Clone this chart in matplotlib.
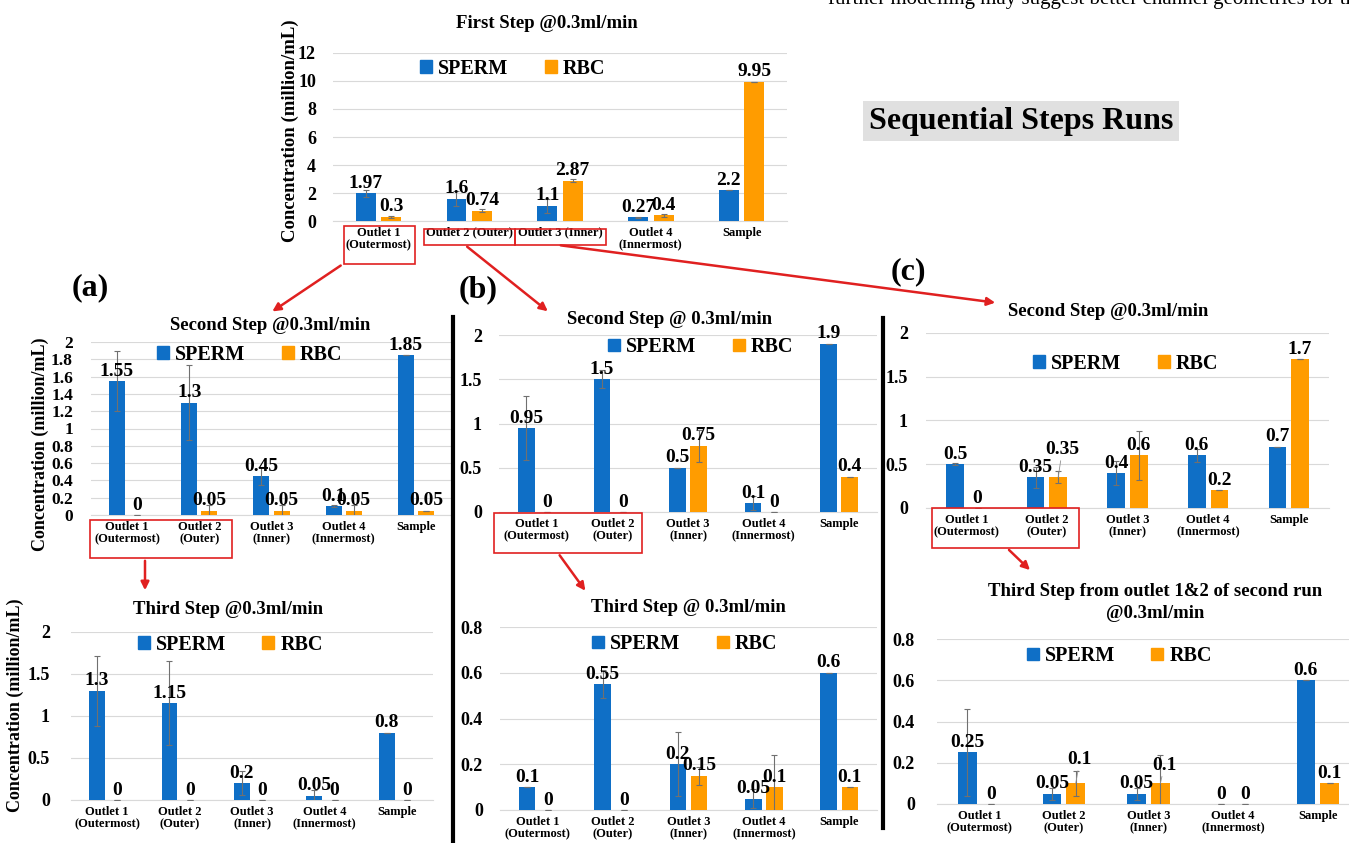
import numpy as np
import matplotlib.pyplot as plt
from matplotlib.patches import Patch, Rectangle, FancyArrowPatch
from matplotlib.lines import Line2D

W, H = 1349, 843
plt.rcParams['font.family'] = 'Liberation Serif'
plt.rcParams['font.weight'] = 'bold'

BLUE = '#0f6fc6'
ORANGE = '#ff9c00'
RED = '#e02020'
GRID = '#d9d9d9'

# ---- data ----
cats_first = ['Outlet 1\n(Outermost)', 'Outlet 2 (Outer)', 'Outlet 3 (Inner)', 'Outlet 4\n(Innermost)', 'Sample']
cats = ['Outlet 1\n(Outermost)', 'Outlet 2\n(Outer)', 'Outlet 3\n(Inner)', 'Outlet 4\n(Innermost)', 'Sample']

first_sperm = [1.97, 1.6, 1.1, 0.27, 2.2]
first_rbc = [0.3, 0.74, 2.87, 0.4, 9.95]
first_sperm_err = [0.25, 0.55, 0.5, 0.05, 0]
first_rbc_err = [0.05, 0.1, 0.1, 0.08, 0]

a2_sperm = [1.55, 1.3, 0.45, 0.1, 1.85]
a2_rbc = [0, 0.05, 0.05, 0.05, 0.05]
a2_sperm_err = [0.35, 0.43, 0.1, 0.01, 0]
a2_rbc_err = [0, 0.07, 0.07, 0.07, 0]

a3_sperm = [1.3, 1.15, 0.2, 0.05, 0.8]
a3_rbc = [0, 0, 0, 0, 0]
a3_sperm_err = [0.42, 0.5, 0.14, 0.07, 0]
a3_rbc_err = [0, 0, 0, 0, 0]

b2_sperm = [0.95, 1.5, 0.5, 0.1, 1.9]
b2_rbc = [0, 0, 0.75, 0, 0.4]
b2_sperm_err = [0.36, 0.1, 0, 0.08, 0]
b2_rbc_err = [0, 0, 0.18, 0, 0]

b3_sperm = [0.1, 0.55, 0.2, 0.05, 0.6]
b3_rbc = [0, 0, 0.15, 0.1, 0.1]
b3_sperm_err = [0, 0.06, 0.14, 0.04, 0]
b3_rbc_err = [0, 0, 0.04, 0.14, 0]

c2_sperm = [0.5, 0.35, 0.4, 0.6, 0.7]
c2_rbc = [0, 0.35, 0.6, 0.2, 1.7]
c2_sperm_err = [0.01, 0.12, 0.14, 0.07, 0]
c2_rbc_err = [0, 0.07, 0.28, 0, 0]

c3_sperm = [0.25, 0.05, 0.05, 0, 0.6]
c3_rbc = [0, 0.1, 0.1, 0, 0.1]
c3_sperm_err = [0.21, 0.03, 0.03, 0, 0]
c3_rbc_err = [0, 0.06, 0.14, 0, 0]

fig = plt.figure(figsize=(W / 100, H / 100), dpi=100)


def fx(x):
    return x / W


def fy(y):
    return 1 - y / H


def bar_panel(box, sperm, rbc, s_err, r_err, labels, ymax, step, leg_xy,
              ypad=17, tick_size=13, lab_size=14, cat_size=9, rbc_lift=None):
    l, t, r, b = box
    ax = fig.add_axes([fx(l), fy(b), (r - l) / W, (b - t) / H])
    x = np.arange(len(labels))
    ekw = dict(ecolor='#707070', elinewidth=0.8, capsize=2, capthick=0.8)
    ax.bar(x - 0.14, sperm, 0.22, color=BLUE, yerr=s_err, error_kw=ekw, zorder=3)
    ax.bar(x + 0.14, rbc, 0.22, color=ORANGE, yerr=r_err, error_kw=ekw, zorder=3)
    for xi, v in zip(x - 0.14, sperm):
        ax.annotate(f'{v:g}', (xi, v), xytext=(0, 1), textcoords='offset points',
                    ha='center', va='bottom', fontsize=lab_size, fontweight='bold', zorder=5)
    lifts = rbc_lift or [0] * len(rbc)
    for xi, v, lift in zip(x + 0.14, rbc, lifts):
        if lift:
            ax.annotate(f'{v:g}', (xi, v), xytext=(3, 1 + lift), textcoords='offset points',
                        ha='center', va='bottom', fontsize=lab_size, fontweight='bold', zorder=5,
                        arrowprops=dict(arrowstyle='-', color='#909090', lw=0.6, shrinkA=0, shrinkB=0))
        else:
            ax.annotate(f'{v:g}', (xi, v), xytext=(0, 1), textcoords='offset points',
                        ha='center', va='bottom', fontsize=lab_size, fontweight='bold', zorder=5)
    ax.set_xlim(-0.5, len(labels) - 0.5)
    ax.set_ylim(0, ymax)
    ticks = np.arange(0, ymax + step / 2, step)
    ax.set_yticks(ticks)
    ax.set_yticklabels([f'{round(v, 2):g}' for v in ticks], fontsize=tick_size, fontweight='bold')
    ax.set_xticks(x)
    ax.set_xticklabels(labels, fontsize=cat_size, fontweight='bold', linespacing=1.1)
    ax.tick_params(axis='y', length=0, pad=ypad * 0.72)
    ax.tick_params(axis='x', length=0, pad=4)
    ax.grid(axis='y', color=GRID, lw=0.8)
    ax.set_axisbelow(True)
    for s in ('left', 'right', 'top'):
        ax.spines[s].set_visible(False)
    ax.spines['bottom'].set_color(GRID)
    ax.patch.set_alpha(0)
    handles = [Patch(color=BLUE, label='SPERM'), Patch(color=ORANGE, label='RBC')]
    ax.legend(handles=handles, loc='center', bbox_to_anchor=leg_xy, ncol=2, frameon=False,
              handlelength=0.6, handleheight=0.6, handletextpad=0.3,
              columnspacing=1.8, prop={'weight': 'bold', 'size': 14.5})
    return ax


bar_panel((333, 53, 787, 221), first_sperm, first_rbc, first_sperm_err, first_rbc_err,
          cats_first, 12, 2, (0.396, 0.905), ypad=17)
bar_panel((91, 342, 452, 515), a2_sperm, a2_rbc, a2_sperm_err, a2_rbc_err,
          cats, 2, 0.2, (0.44, 0.925), ypad=18, tick_size=12.5)
bar_panel((71, 632, 433, 800), a3_sperm, a3_rbc, a3_sperm_err, a3_rbc_err,
          cats, 2, 0.5, (0.44, 0.923), ypad=21)
bar_panel((499, 335, 877, 512), b2_sperm, b2_rbc, b2_sperm_err, b2_rbc_err,
          cats, 2, 0.5, (0.534, 0.932), ypad=17)
bar_panel((500, 627, 877, 810), b3_sperm, b3_rbc, b3_sperm_err, b3_rbc_err,
          cats, 0.8, 0.2, (0.49, 0.907), ypad=17)
bar_panel((926, 333, 1329, 508), c2_sperm, c2_rbc, c2_sperm_err, c2_rbc_err,
          cats, 2, 0.5, (0.496, 0.823), ypad=18, rbc_lift=[0, 13, 0, 0, 0])
bar_panel((937, 639, 1360, 804), c3_sperm, c3_rbc, c3_sperm_err, c3_rbc_err,
          cats, 0.8, 0.2, (0.431, 0.897), ypad=22, rbc_lift=[0, 10, 6, 0, 0])

# ---- titles ----
titles = [
    ('First Step @0.3ml/min', 547, 23),
    ('Second Step @0.3ml/min', 270, 325),
    ('Third Step @0.3ml/min', 228, 609),
    ('Second Step @ 0.3ml/min', 670, 319),
    ('Third Step @ 0.3ml/min', 688, 607),
    ('Second Step @0.3ml/min', 1108, 312),
    ('Third Step from outlet 1&2 of second run', 1155, 592),
    ('@0.3ml/min', 1155, 613),
]
for txt, x, y in titles:
    fig.text(fx(x), fy(y), txt, ha='center', va='center', fontsize=13.5, fontweight='bold')

ylab = 'Concentration (million/mL)'
fig.text(fx(290), fy(131), ylab, rotation=90, ha='center', va='center', fontsize=13.5, fontweight='bold')
fig.text(fx(40), fy(444), ylab, rotation=90, ha='center', va='center', fontsize=13, fontweight='bold')
fig.text(fx(15), fy(705), ylab, rotation=90, ha='center', va='center', fontsize=13, fontweight='bold')

for lab, x, y in (('(a)', 90, 288), ('(b)', 478, 290), ('(c)', 908, 272)):
    fig.text(fx(x), fy(y), lab, ha='center', va='center', fontsize=23, fontweight='bold')

fig.text(fx(1021), fy(121), 'Sequential Steps Runs', ha='center', va='center', fontsize=23,
         fontweight='bold', bbox=dict(facecolor='#e0e0e0', edgecolor='none', pad=4))
# page text bleeding in from above, cut by the top edge as in the source
fig.text(fx(828), fy(-1), 'further modelling may suggest better channel geometries for the',
         ha='left', va='center', fontsize=15, fontweight='normal')

# ---- separators ----
for x, y0, y1 in ((453, 317, 843), (883, 318, 828)):
    fig.add_artist(Line2D([fx(x), fx(x)], [fy(y0), fy(y1)], color='black', lw=3))

# ---- red boxes and arrows ----
boxes = [(344, 226, 415, 264), (424, 229, 515, 245), (515, 229, 606, 245),
         (90, 520, 232, 558), (494, 513, 642, 553), (932, 508, 1079, 548)]
for l, t, r, b in boxes:
    fig.add_artist(Rectangle((fx(l), fy(b)), (r - l) / W, (b - t) / H, fill=False,
                             edgecolor=RED, lw=1.2, transform=fig.transFigure))

arrows = [((343, 264), (270, 313)), ((465, 245), (550, 313)), ((558, 245), (998, 303)),
          ((145, 558), (145, 593)), ((558, 553), (587, 593)), ((1007, 548), (1032, 572))]
for (x0, y0), (x1, y1) in arrows:
    fig.add_artist(FancyArrowPatch((fx(x0), fy(y0)), (fx(x1), fy(y1)), arrowstyle='-|>',
                                   mutation_scale=12, color=RED, lw=1.8,
                                   transform=fig.transFigure))

fig.savefig('out.png', dpi=100)
